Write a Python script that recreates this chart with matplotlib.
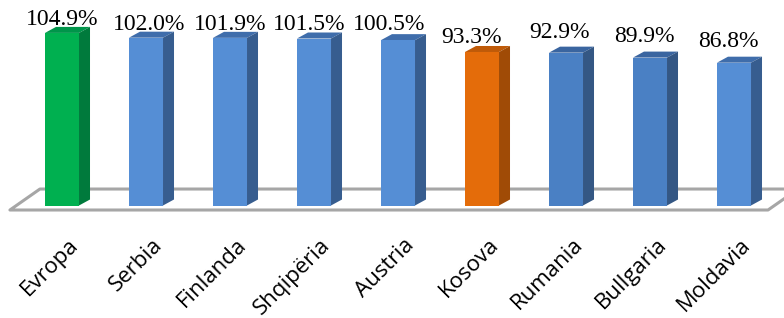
import numpy as np
import matplotlib
matplotlib.use("Agg")
import matplotlib.pyplot as plt
from matplotlib.patches import Polygon
from matplotlib.transforms import ScaledTranslation

# ====== данные ======
countries = ["Evropa", "Serbia", "Finlanda", "Shqipëria", "Austria",
             "Kosova", "Rumania", "Bullgaria", "Moldavia"]
values = [104.9, 102.0, 101.9, 101.5, 100.5, 93.3, 92.9, 89.9, 86.8]

# ====== стиль ======
# (front, top, side)
GREEN = ("#00B050", "#00954A", "#007A3C")
BLUE = ("#558ED5", "#3F6DAB", "#375D8F")
BLUE2 = ("#4A80C4", "#3A65A0", "#345784")
ORANGE = ("#E46C0A", "#BF5A08", "#A04B06")
bar_colors = [GREEN, BLUE, BLUE, BLUE, BLUE, ORANGE, BLUE2, BLUE2, BLUE]
# сдвиг подписей значений (пиксели)
label_dx = [0, 3, 0, -5, -9, -10, -6, -6, -6]
label_dy = [8, 8, 8, 8.5, 10, 9, 15, 15.5, 15.5]

W = 0.405        # ширина передней грани
DX = 11 / 84     # глубина по x (ед. данных)
DY = 6 / 1.645   # глубина по y (ед. данных)

fig = plt.figure(figsize=(7.84, 3.18), dpi=100)
ax = fig.add_axes([0, 106 / 318, 1, 212 / 318])
ax.set_xlim(-62 / 84, (784 - 62) / 84)
ax.set_ylim(-3.95, 124.9)
for s in ax.spines.values():
    s.set_visible(False)
ax.set_yticks([])

x = np.arange(len(countries))

# пол
n = len(countries)
fl, fr, fy = -0.62, n - 1 + 0.405, -2.74
ddx, ddy = 0.357, 12.75
floor = Polygon([(fl, fy), (fr, fy), (fr + ddx, fy + ddy), (fl + ddx, fy + ddy)],
                closed=True, facecolor="white", edgecolor="#A6A6A6",
                linewidth=2.2, zorder=1, joinstyle="round")
ax.add_patch(floor)

# столбики
bars = ax.bar(x, values, width=W, color=[c[0] for c in bar_colors],
              zorder=3, linewidth=0)
for b, v, c in zip(bars, values, bar_colors):
    x0, x1 = b.get_x(), b.get_x() + b.get_width()
    top = Polygon([(x0, v), (x0 + DX, v + DY), (x1 + DX, v + DY), (x1, v)],
                  closed=True, facecolor=c[1], edgecolor="none", zorder=2)
    side = Polygon([(x1, 0), (x1 + DX, DY), (x1 + DX, v + DY), (x1, v)],
                   closed=True, facecolor=c[2], edgecolor="none", zorder=2)
    ax.add_patch(top)
    ax.add_patch(side)

# подписи значений
for xi, v, ddx_, ddy_ in zip(x, values, label_dx, label_dy):
    ax.annotate(f"{v:.1f}%", (xi, v), xytext=(ddx_, ddy_),
                textcoords="offset pixels", ha="center", va="baseline",
                fontsize=17, family="Liberation Serif", color="black")

# подписи категорий
ax.set_xticks(x)
ax.set_xticklabels(countries, rotation=45, ha="right", rotation_mode="anchor",
                   fontsize=16, family=["Open Sans", "DejaVu Sans"])
ax.tick_params(axis="x", length=0, pad=16)
for lab in ax.get_xticklabels():
    lab.set_transform(lab.get_transform() +
                      ScaledTranslation(6 / 100, 0, fig.dpi_scale_trans))

fig.savefig("out.png", dpi=100)
